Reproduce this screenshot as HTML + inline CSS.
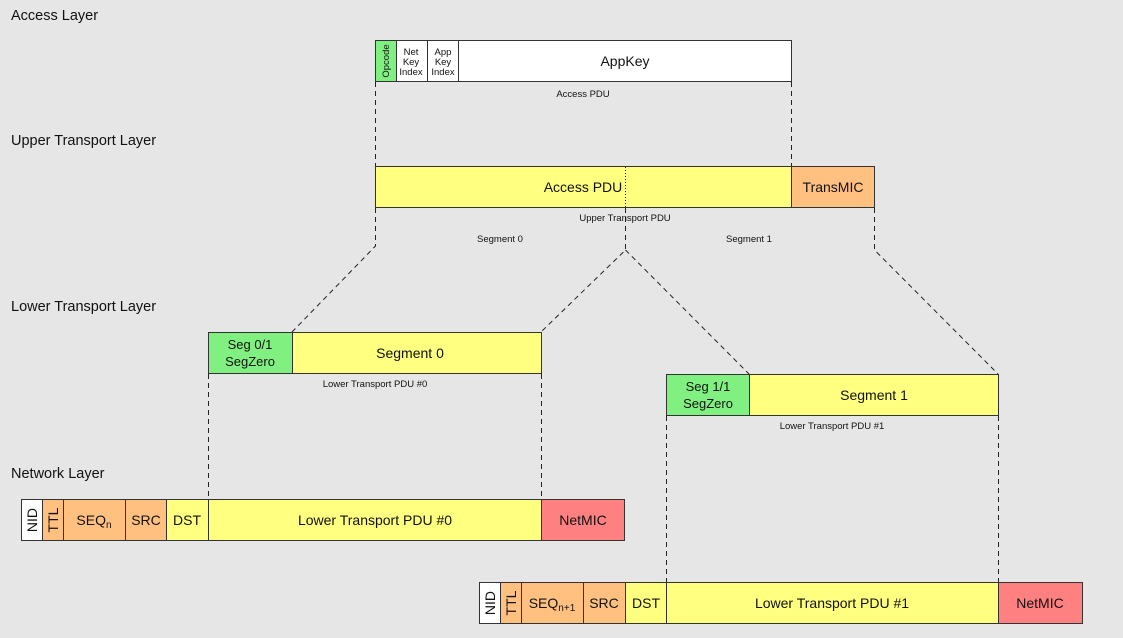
<!DOCTYPE html>
<html><head><meta charset="utf-8"><style>
html,body{margin:0;padding:0;background:#e6e6e6;}
svg{display:block;font-family:"Liberation Sans",Arial,sans-serif;}
</style></head><body>
<svg width="1123" height="638" viewBox="0 0 1123 638" xmlns="http://www.w3.org/2000/svg">
<rect width="1123" height="638" fill="#e6e6e6"/>
<g font-size="14.5" fill="#111">
<text x="11" y="20">Access Layer</text>
<text x="11" y="145">Upper Transport Layer</text>
<text x="11" y="311">Lower Transport Layer</text>
<text x="11" y="478">Network Layer</text>
</g>
<!-- dashed connectors -->
<g stroke="#222" stroke-width="1" stroke-dasharray="5,4" fill="none">
<line x1="375.5" y1="82" x2="375.5" y2="166"/>
<line x1="791.5" y1="82" x2="791.5" y2="166"/>
<polyline points="375.5,208 375.5,246 292,332"/>
<polyline points="625.5,208 625.5,250 541,332"/>
<polyline points="625.5,250 749,374"/>
<polyline points="874.5,208 874.5,250 998,374"/>
<line x1="208.5" y1="374" x2="208.5" y2="499"/>
<line x1="541.5" y1="374" x2="541.5" y2="499"/>
<line x1="666.5" y1="416" x2="666.5" y2="582"/>
<line x1="998.5" y1="416" x2="998.5" y2="582"/>
</g>
<g stroke="#333" stroke-width="1">
<!-- Access -->
<rect x="375.5" y="40.5" width="21" height="41" fill="#80f080"/>
<rect x="396.5" y="40.5" width="31" height="41" fill="#fff"/>
<rect x="427.5" y="40.5" width="31" height="41" fill="#fff"/>
<rect x="458.5" y="40.5" width="333" height="41" fill="#fff"/>
<!-- Upper -->
<rect x="375.5" y="166.5" width="416" height="41" fill="#ffff80"/>
<rect x="791.5" y="166.5" width="83" height="41" fill="#ffc080"/>
<!-- Lower 0 -->
<rect x="208.5" y="332.5" width="84" height="41" fill="#80f080"/>
<rect x="292.5" y="332.5" width="249" height="41" fill="#ffff80"/>
<!-- Lower 1 -->
<rect x="666.5" y="374.5" width="83" height="41" fill="#80f080"/>
<rect x="749.5" y="374.5" width="249" height="41" fill="#ffff80"/>
<!-- Network 0 -->
<rect x="21.5" y="499.5" width="21" height="41" fill="#fff"/>
<rect x="42.5" y="499.5" width="21" height="41" fill="#ffc080"/>
<rect x="63.5" y="499.5" width="62" height="41" fill="#ffc080"/>
<rect x="125.5" y="499.5" width="41" height="41" fill="#ffc080"/>
<rect x="166.5" y="499.5" width="42" height="41" fill="#ffff80"/>
<rect x="208.5" y="499.5" width="333" height="41" fill="#ffff80"/>
<rect x="541.5" y="499.5" width="83" height="41" fill="#ff8080"/>
<!-- Network 1 -->
<rect x="479.5" y="582.5" width="21" height="41" fill="#fff"/>
<rect x="500.5" y="582.5" width="21" height="41" fill="#ffc080"/>
<rect x="521.5" y="582.5" width="62" height="41" fill="#ffc080"/>
<rect x="583.5" y="582.5" width="42" height="41" fill="#ffc080"/>
<rect x="625.5" y="582.5" width="41" height="41" fill="#ffff80"/>
<rect x="666.5" y="582.5" width="332" height="41" fill="#ffff80"/>
<rect x="998.5" y="582.5" width="84" height="41" fill="#ff8080"/>
</g>
<line x1="625.5" y1="167" x2="625.5" y2="207" stroke="#222" stroke-dasharray="1,2"/>
<g fill="#111" text-anchor="middle">
<g font-size="9.5">
<text x="0" y="0" transform="translate(389,61) rotate(-90)">Opcode</text>
<text x="411" y="55">Net</text><text x="411" y="65">Key</text><text x="411" y="75">Index</text>
<text x="443" y="55">App</text><text x="443" y="65">Key</text><text x="443" y="75">Index</text>
<text x="583" y="97">Access PDU</text>
<text x="625" y="221">Upper Transport PDU</text>
<text x="500" y="242">Segment 0</text>
<text x="749" y="242">Segment 1</text>
<text x="375" y="387">Lower Transport PDU #0</text>
<text x="832" y="429">Lower Transport PDU #1</text>
</g>
<g font-size="14">
<text x="625" y="66">AppKey</text>
<text x="583" y="192">Access PDU</text>
<text x="833" y="192">TransMIC</text>
<text x="410" y="358">Segment 0</text>
<text x="874" y="400">Segment 1</text>
<text x="375" y="525">Lower Transport PDU #0</text>
<text x="832" y="608">Lower Transport PDU #1</text>
<text x="583" y="525">NetMIC</text>
<text x="1040" y="608">NetMIC</text>
<text x="146" y="525">SRC</text>
<text x="187" y="525">DST</text>
<text x="604" y="608">SRC</text>
<text x="646" y="608">DST</text>
<text x="94" y="525">SEQ<tspan font-size="10" dy="3">n</tspan></text>
<text x="552" y="608">SEQ<tspan font-size="10" dy="3">n+1</tspan></text>
<text x="0" y="0" transform="translate(37,520) rotate(-90)">NID</text>
<text x="0" y="0" transform="translate(58,520) rotate(-90)">TTL</text>
<text x="0" y="0" transform="translate(495,603) rotate(-90)">NID</text>
<text x="0" y="0" transform="translate(516,603) rotate(-90)">TTL</text>
</g>
<g font-size="13">
<text x="250" y="349">Seg 0/1</text><text x="250" y="366">SegZero</text>
<text x="708" y="391">Seg 1/1</text><text x="708" y="408">SegZero</text>
</g>
</g>
</svg>
</body></html>
